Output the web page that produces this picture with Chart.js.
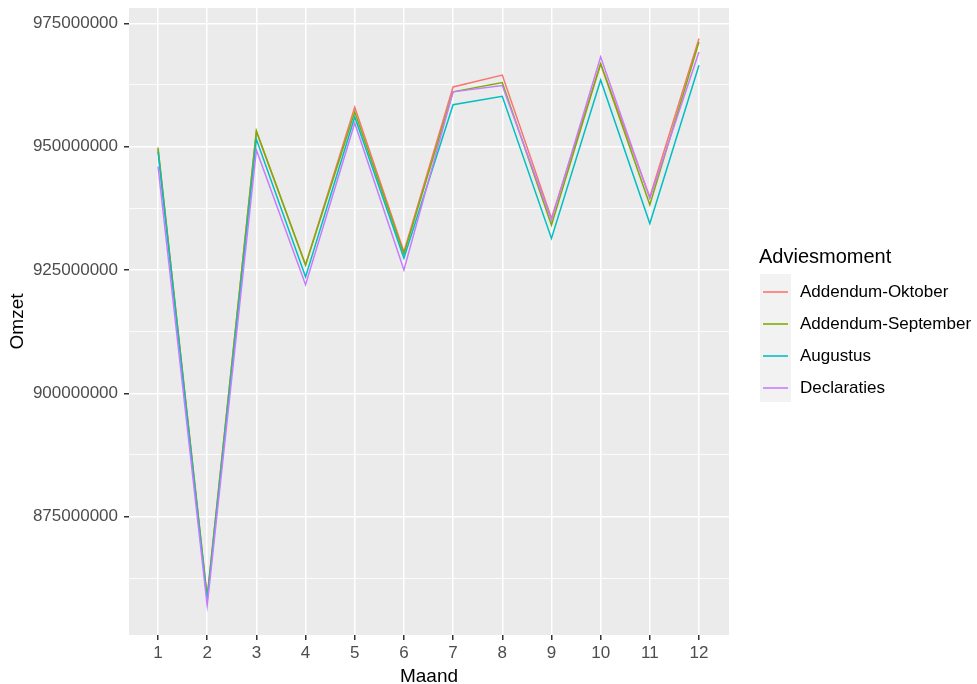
<!DOCTYPE html>
<html>
<head>
<meta charset="utf-8">
<title>Omzet per maand</title>
<script src="https://cdn.jsdelivr.net/npm/chart.js@4.4.1/dist/chart.umd.min.js"></script>
<style>
  body { margin: 0; background: #ffffff; }
  #wrap { position: relative; width: 977px; height: 684px; }
</style>
</head>
<body>
<div id="wrap"><canvas id="line-chartcanvas" width="977" height="684"></canvas></div>
<script>
// data
var maanden = [1, 2, 3, 4, 5, 6, 7, 8, 9, 10, 11, 12];
var adviesmomenten = ["Addendum-Oktober", "Addendum-September", "Augustus", "Declaraties"];
var oktober   = [949500000, 858800000, 953000000, 926000000, 958000000, 928700000, 962100000, 964500000, 935500000, 966800000, 939800000, 971900000];
var september = [949800000, 858500000, 953200000, 926000000, 957000000, 928200000, 961100000, 963000000, 934100000, 966800000, 938200000, 971200000];
var augustus  = [949000000, 858000000, 951500000, 923600000, 956000000, 927400000, 958500000, 960200000, 931400000, 963500000, 934400000, 966500000];
var declaraties = [946000000, 857000000, 949300000, 922000000, 954800000, 925000000, 961100000, 962400000, 935100000, 968200000, 939500000, 969200000];
var yTicks = [862500000, 875000000, 887500000, 900000000, 912500000, 925000000, 937500000, 950000000, 962500000, 975000000];

var kleuren = ["#F8766D", "#7CAE00", "#00BFC4", "#C77CFF"];
var reeksen = [oktober, september, augustus, declaraties];

function maakPunten(values) {
  var pts = [];
  for (var i = 0; i < maanden.length; i++) {
    pts.push({x: maanden[i], y: values[i]});
  }
  return pts;
}

var datasets = [];
for (var s = 0; s < reeksen.length; s++) {
  datasets.push({
    label: adviesmomenten[s],
    data: maakPunten(reeksen[s]),
    borderColor: kleuren[s],
    backgroundColor: kleuren[s],
    borderWidth: 1.5,
    pointRadius: 0,
    tension: 0,
    fill: false,
    order: reeksen.length - 1 - s   // Declaraties on top, like ggplot
  });
}

function isMajor(v) {
  return Math.abs(v % 25000000) < 1;
}

// grey panel behind the grid
var panelPlugin = {
  id: 'panel',
  beforeDraw: function(chart) {
    var a = chart.chartArea;
    var ctx = chart.ctx;
    ctx.save();
    ctx.fillStyle = "#EBEBEB";
    ctx.fillRect(a.left, a.top, a.right - a.left, a.bottom - a.top);
    ctx.restore();
  }
};

// ggplot style legend to the right
var legendPlugin = {
  id: 'ggLegend',
  afterDraw: function(chart) {
    var ctx = chart.ctx;
    ctx.save();
    ctx.fillStyle = "#000000";
    ctx.font = "20px 'Liberation Sans', Arial, sans-serif";
    ctx.textBaseline = "middle";
    ctx.textAlign = "left";
    ctx.fillText("Adviesmoment", 759, 257);
    ctx.fillStyle = "#F2F2F2";
    ctx.fillRect(760, 274, 31, 128);
    ctx.font = "17px 'Liberation Sans', Arial, sans-serif";
    for (var i = 0; i < adviesmomenten.length; i++) {
      var y = 292 + i * 32;
      ctx.strokeStyle = kleuren[i];
      ctx.lineWidth = 1.6;
      ctx.beginPath();
      ctx.moveTo(763, y);
      ctx.lineTo(788, y);
      ctx.stroke();
      ctx.fillStyle = "#000000";
      ctx.fillText(adviesmomenten[i], 800, y);
    }
    ctx.restore();
  }
};

var ctx = document.getElementById("line-chartcanvas");

var LineGraph = new Chart(ctx, {
  type: 'line',
  data: { datasets: datasets },
  plugins: [panelPlugin, legendPlugin],
  options: {
    responsive: false,
    animation: false,
    devicePixelRatio: 1,
    layout: { padding: { top: 8, right: 248, bottom: 0, left: 0 } },
    plugins: {
      legend: { display: false },
      tooltip: { enabled: false }
    },
    scales: {
      x: {
        type: 'linear',
        min: 0.41,
        max: 12.61,
        afterBuildTicks: function(scale) {
          scale.ticks = maanden.map(function(m) { return {value: m}; });
        },
        afterFit: function(scale) {
          scale.height = 49;
          scale.paddingLeft = 0;
          scale.paddingRight = 0;
        },
        ticks: {
          autoSkip: false,
          maxRotation: 0,
          padding: 3,
          color: "#4D4D4D",
          font: { family: "'Liberation Sans', Arial, sans-serif", size: 17 },
          callback: function(v) { return String(v); }
        },
        grid: {
          color: "#FFFFFF",
          lineWidth: 1.5,
          tickLength: 5,
          tickColor: "#333333"
        },
        border: { display: false },
        title: {
          display: true,
          text: "Maand",
          color: "#000000",
          padding: { top: 0, bottom: 0 },
          font: { family: "'Liberation Sans', Arial, sans-serif", size: 19, lineHeight: 0.8 }
        }
      },
      y: {
        type: 'linear',
        min: 851000000,
        max: 978100000,
        afterBuildTicks: function(scale) {
          scale.ticks = yTicks.map(function(v) { return {value: v}; });
        },
        afterFit: function(scale) {
          scale.width = 129;
          scale.paddingTop = 0;
          scale.paddingBottom = 0;
        },
        ticks: {
          autoSkip: false,
          padding: 6,
          color: "#4D4D4D",
          font: { family: "'Liberation Sans', Arial, sans-serif", size: 17 },
          callback: function(v) { return isMajor(v) ? String(v) : ""; }
        },
        grid: {
          color: "#FFFFFF",
          lineWidth: function(c) { return c.tick && isMajor(c.tick.value) ? 1.5 : 0.8; },
          tickLength: 5,
          tickColor: function(c) { return c.tick && isMajor(c.tick.value) ? "#333333" : "rgba(0,0,0,0)"; }
        },
        border: { display: false },
        title: {
          display: true,
          text: "Omzet",
          color: "#000000",
          padding: { top: 10, bottom: 0 },
          font: { family: "'Liberation Sans', Arial, sans-serif", size: 19, lineHeight: 0.8 }
        }
      }
    }
  }
});
</script>
</body>
</html>
